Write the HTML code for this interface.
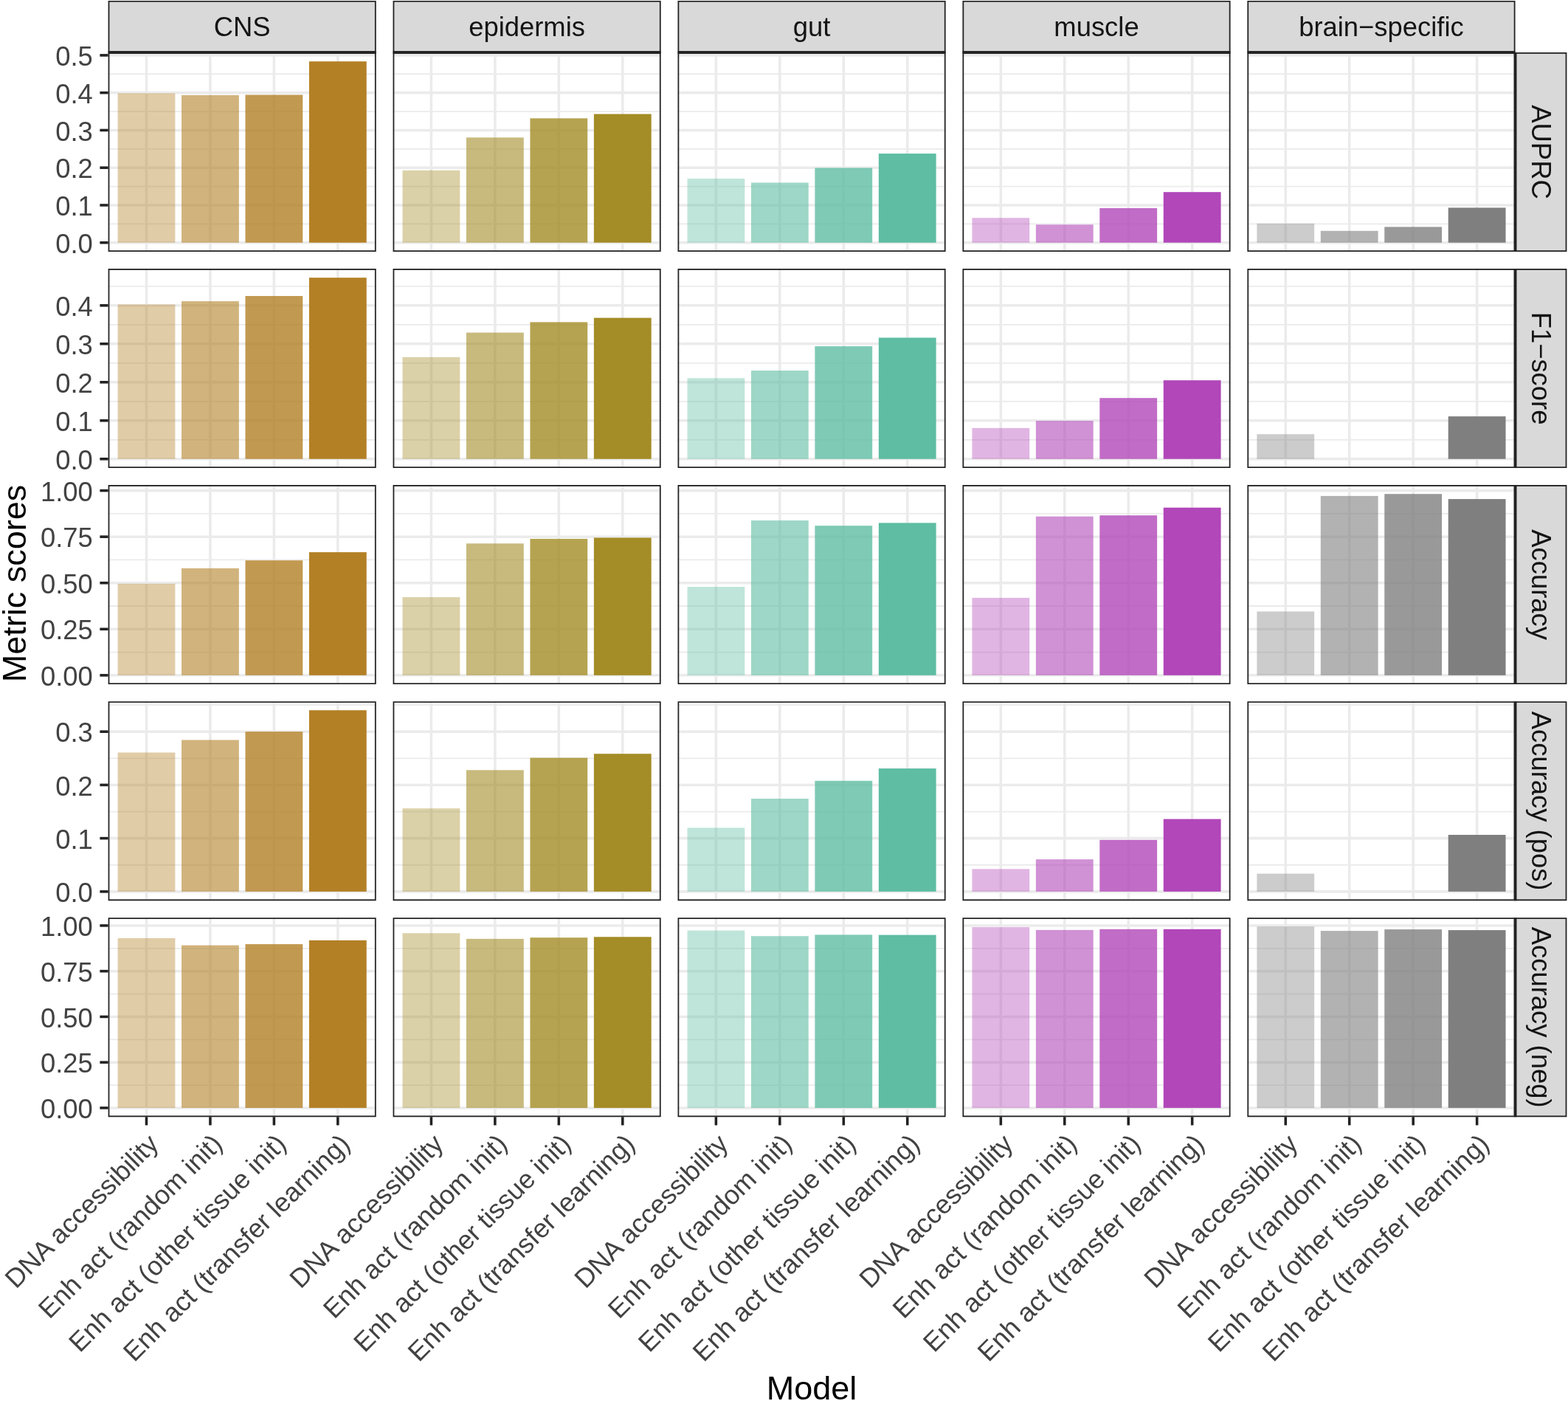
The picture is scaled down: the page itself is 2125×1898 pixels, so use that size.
<!DOCTYPE html>
<html><head><meta charset="utf-8"><title>Metric scores</title>
<style>
html,body{margin:0;padding:0;background:#fff;}
body{width:2125px;height:1898px;overflow:hidden;}
svg{display:block;font-family:"Liberation Sans", Arial, Helvetica, sans-serif;}
</style></head><body>
<svg width="2125" height="1898" viewBox="0 0 2125 1898">
<rect width="100%" height="100%" fill="#FFFFFF"/>
<defs>
<clipPath id="p00"><rect x="146.6" y="71" width="363.1" height="270"/></clipPath>
<clipPath id="p01"><rect x="532.55" y="71" width="363.1" height="270"/></clipPath>
<clipPath id="p02"><rect x="918.5" y="71" width="363.1" height="270"/></clipPath>
<clipPath id="p03"><rect x="1304.45" y="71" width="363.1" height="270"/></clipPath>
<clipPath id="p04"><rect x="1690.4" y="71" width="363.1" height="270"/></clipPath>
<clipPath id="p10"><rect x="146.6" y="364.05" width="363.1" height="270"/></clipPath>
<clipPath id="p11"><rect x="532.55" y="364.05" width="363.1" height="270"/></clipPath>
<clipPath id="p12"><rect x="918.5" y="364.05" width="363.1" height="270"/></clipPath>
<clipPath id="p13"><rect x="1304.45" y="364.05" width="363.1" height="270"/></clipPath>
<clipPath id="p14"><rect x="1690.4" y="364.05" width="363.1" height="270"/></clipPath>
<clipPath id="p20"><rect x="146.6" y="657.1" width="363.1" height="270"/></clipPath>
<clipPath id="p21"><rect x="532.55" y="657.1" width="363.1" height="270"/></clipPath>
<clipPath id="p22"><rect x="918.5" y="657.1" width="363.1" height="270"/></clipPath>
<clipPath id="p23"><rect x="1304.45" y="657.1" width="363.1" height="270"/></clipPath>
<clipPath id="p24"><rect x="1690.4" y="657.1" width="363.1" height="270"/></clipPath>
<clipPath id="p30"><rect x="146.6" y="950.15" width="363.1" height="270"/></clipPath>
<clipPath id="p31"><rect x="532.55" y="950.15" width="363.1" height="270"/></clipPath>
<clipPath id="p32"><rect x="918.5" y="950.15" width="363.1" height="270"/></clipPath>
<clipPath id="p33"><rect x="1304.45" y="950.15" width="363.1" height="270"/></clipPath>
<clipPath id="p34"><rect x="1690.4" y="950.15" width="363.1" height="270"/></clipPath>
<clipPath id="p40"><rect x="146.6" y="1243.2" width="363.1" height="270"/></clipPath>
<clipPath id="p41"><rect x="532.55" y="1243.2" width="363.1" height="270"/></clipPath>
<clipPath id="p42"><rect x="918.5" y="1243.2" width="363.1" height="270"/></clipPath>
<clipPath id="p43"><rect x="1304.45" y="1243.2" width="363.1" height="270"/></clipPath>
<clipPath id="p44"><rect x="1690.4" y="1243.2" width="363.1" height="270"/></clipPath>
</defs>
<g clip-path="url(#p00)"><line x1="146.6" x2="509.7" y1="303.34" y2="303.34" stroke="#EBEBEB" stroke-width="1.78"/><line x1="146.6" x2="509.7" y1="252.57" y2="252.57" stroke="#EBEBEB" stroke-width="1.78"/><line x1="146.6" x2="509.7" y1="201.8" y2="201.8" stroke="#EBEBEB" stroke-width="1.78"/><line x1="146.6" x2="509.7" y1="151.03" y2="151.03" stroke="#EBEBEB" stroke-width="1.78"/><line x1="146.6" x2="509.7" y1="100.26" y2="100.26" stroke="#EBEBEB" stroke-width="1.78"/><line x1="146.6" x2="509.7" y1="328.73" y2="328.73" stroke="#EBEBEB" stroke-width="3.56"/><line x1="146.6" x2="509.7" y1="277.96" y2="277.96" stroke="#EBEBEB" stroke-width="3.56"/><line x1="146.6" x2="509.7" y1="227.19" y2="227.19" stroke="#EBEBEB" stroke-width="3.56"/><line x1="146.6" x2="509.7" y1="176.42" y2="176.42" stroke="#EBEBEB" stroke-width="3.56"/><line x1="146.6" x2="509.7" y1="125.65" y2="125.65" stroke="#EBEBEB" stroke-width="3.56"/><line x1="146.6" x2="509.7" y1="74.88" y2="74.88" stroke="#EBEBEB" stroke-width="3.56"/><line x1="198.47" x2="198.47" y1="71" y2="341" stroke="#EBEBEB" stroke-width="3.56"/><line x1="284.92" x2="284.92" y1="71" y2="341" stroke="#EBEBEB" stroke-width="3.56"/><line x1="371.38" x2="371.38" y1="71" y2="341" stroke="#EBEBEB" stroke-width="3.56"/><line x1="457.83" x2="457.83" y1="71" y2="341" stroke="#EBEBEB" stroke-width="3.56"/><rect x="159.57" y="126.4" width="77.81" height="202.33" fill="#B38026" fill-opacity="0.4"/><rect x="246.02" y="128.9" width="77.81" height="199.83" fill="#B38026" fill-opacity="0.6"/><rect x="332.47" y="128.5" width="77.81" height="200.23" fill="#B38026" fill-opacity="0.8"/><rect x="418.93" y="83.2" width="77.81" height="245.53" fill="#B38026" fill-opacity="1.0"/><rect x="146.6" y="71" width="363.1" height="270" fill="none" stroke="#222222" stroke-width="3.56"/></g>
<g clip-path="url(#p01)"><line x1="532.55" x2="895.65" y1="303.34" y2="303.34" stroke="#EBEBEB" stroke-width="1.78"/><line x1="532.55" x2="895.65" y1="252.57" y2="252.57" stroke="#EBEBEB" stroke-width="1.78"/><line x1="532.55" x2="895.65" y1="201.8" y2="201.8" stroke="#EBEBEB" stroke-width="1.78"/><line x1="532.55" x2="895.65" y1="151.03" y2="151.03" stroke="#EBEBEB" stroke-width="1.78"/><line x1="532.55" x2="895.65" y1="100.26" y2="100.26" stroke="#EBEBEB" stroke-width="1.78"/><line x1="532.55" x2="895.65" y1="328.73" y2="328.73" stroke="#EBEBEB" stroke-width="3.56"/><line x1="532.55" x2="895.65" y1="277.96" y2="277.96" stroke="#EBEBEB" stroke-width="3.56"/><line x1="532.55" x2="895.65" y1="227.19" y2="227.19" stroke="#EBEBEB" stroke-width="3.56"/><line x1="532.55" x2="895.65" y1="176.42" y2="176.42" stroke="#EBEBEB" stroke-width="3.56"/><line x1="532.55" x2="895.65" y1="125.65" y2="125.65" stroke="#EBEBEB" stroke-width="3.56"/><line x1="532.55" x2="895.65" y1="74.88" y2="74.88" stroke="#EBEBEB" stroke-width="3.56"/><line x1="584.42" x2="584.42" y1="71" y2="341" stroke="#EBEBEB" stroke-width="3.56"/><line x1="670.87" x2="670.87" y1="71" y2="341" stroke="#EBEBEB" stroke-width="3.56"/><line x1="757.33" x2="757.33" y1="71" y2="341" stroke="#EBEBEB" stroke-width="3.56"/><line x1="843.78" x2="843.78" y1="71" y2="341" stroke="#EBEBEB" stroke-width="3.56"/><rect x="545.52" y="230.8" width="77.81" height="97.93" fill="#A48C26" fill-opacity="0.4"/><rect x="631.97" y="186.3" width="77.81" height="142.43" fill="#A48C26" fill-opacity="0.6"/><rect x="718.42" y="160.3" width="77.81" height="168.43" fill="#A48C26" fill-opacity="0.8"/><rect x="804.87" y="154.5" width="77.81" height="174.23" fill="#A48C26" fill-opacity="1.0"/><rect x="532.55" y="71" width="363.1" height="270" fill="none" stroke="#222222" stroke-width="3.56"/></g>
<g clip-path="url(#p02)"><line x1="918.5" x2="1281.6" y1="303.34" y2="303.34" stroke="#EBEBEB" stroke-width="1.78"/><line x1="918.5" x2="1281.6" y1="252.57" y2="252.57" stroke="#EBEBEB" stroke-width="1.78"/><line x1="918.5" x2="1281.6" y1="201.8" y2="201.8" stroke="#EBEBEB" stroke-width="1.78"/><line x1="918.5" x2="1281.6" y1="151.03" y2="151.03" stroke="#EBEBEB" stroke-width="1.78"/><line x1="918.5" x2="1281.6" y1="100.26" y2="100.26" stroke="#EBEBEB" stroke-width="1.78"/><line x1="918.5" x2="1281.6" y1="328.73" y2="328.73" stroke="#EBEBEB" stroke-width="3.56"/><line x1="918.5" x2="1281.6" y1="277.96" y2="277.96" stroke="#EBEBEB" stroke-width="3.56"/><line x1="918.5" x2="1281.6" y1="227.19" y2="227.19" stroke="#EBEBEB" stroke-width="3.56"/><line x1="918.5" x2="1281.6" y1="176.42" y2="176.42" stroke="#EBEBEB" stroke-width="3.56"/><line x1="918.5" x2="1281.6" y1="125.65" y2="125.65" stroke="#EBEBEB" stroke-width="3.56"/><line x1="918.5" x2="1281.6" y1="74.88" y2="74.88" stroke="#EBEBEB" stroke-width="3.56"/><line x1="970.37" x2="970.37" y1="71" y2="341" stroke="#EBEBEB" stroke-width="3.56"/><line x1="1056.82" x2="1056.82" y1="71" y2="341" stroke="#EBEBEB" stroke-width="3.56"/><line x1="1143.28" x2="1143.28" y1="71" y2="341" stroke="#EBEBEB" stroke-width="3.56"/><line x1="1229.73" x2="1229.73" y1="71" y2="341" stroke="#EBEBEB" stroke-width="3.56"/><rect x="931.47" y="242" width="77.81" height="86.73" fill="#5EBDA2" fill-opacity="0.4"/><rect x="1017.92" y="247.5" width="77.81" height="81.23" fill="#5EBDA2" fill-opacity="0.6"/><rect x="1104.37" y="227.5" width="77.81" height="101.23" fill="#5EBDA2" fill-opacity="0.8"/><rect x="1190.82" y="208.1" width="77.81" height="120.63" fill="#5EBDA2" fill-opacity="1.0"/><rect x="918.5" y="71" width="363.1" height="270" fill="none" stroke="#222222" stroke-width="3.56"/></g>
<g clip-path="url(#p03)"><line x1="1304.45" x2="1667.55" y1="303.34" y2="303.34" stroke="#EBEBEB" stroke-width="1.78"/><line x1="1304.45" x2="1667.55" y1="252.57" y2="252.57" stroke="#EBEBEB" stroke-width="1.78"/><line x1="1304.45" x2="1667.55" y1="201.8" y2="201.8" stroke="#EBEBEB" stroke-width="1.78"/><line x1="1304.45" x2="1667.55" y1="151.03" y2="151.03" stroke="#EBEBEB" stroke-width="1.78"/><line x1="1304.45" x2="1667.55" y1="100.26" y2="100.26" stroke="#EBEBEB" stroke-width="1.78"/><line x1="1304.45" x2="1667.55" y1="328.73" y2="328.73" stroke="#EBEBEB" stroke-width="3.56"/><line x1="1304.45" x2="1667.55" y1="277.96" y2="277.96" stroke="#EBEBEB" stroke-width="3.56"/><line x1="1304.45" x2="1667.55" y1="227.19" y2="227.19" stroke="#EBEBEB" stroke-width="3.56"/><line x1="1304.45" x2="1667.55" y1="176.42" y2="176.42" stroke="#EBEBEB" stroke-width="3.56"/><line x1="1304.45" x2="1667.55" y1="125.65" y2="125.65" stroke="#EBEBEB" stroke-width="3.56"/><line x1="1304.45" x2="1667.55" y1="74.88" y2="74.88" stroke="#EBEBEB" stroke-width="3.56"/><line x1="1356.32" x2="1356.32" y1="71" y2="341" stroke="#EBEBEB" stroke-width="3.56"/><line x1="1442.77" x2="1442.77" y1="71" y2="341" stroke="#EBEBEB" stroke-width="3.56"/><line x1="1529.23" x2="1529.23" y1="71" y2="341" stroke="#EBEBEB" stroke-width="3.56"/><line x1="1615.68" x2="1615.68" y1="71" y2="341" stroke="#EBEBEB" stroke-width="3.56"/><rect x="1317.42" y="295.2" width="77.81" height="33.53" fill="#B147B9" fill-opacity="0.4"/><rect x="1403.87" y="304.3" width="77.81" height="24.43" fill="#B147B9" fill-opacity="0.6"/><rect x="1490.32" y="282" width="77.81" height="46.73" fill="#B147B9" fill-opacity="0.8"/><rect x="1576.77" y="260.2" width="77.81" height="68.53" fill="#B147B9" fill-opacity="1.0"/><rect x="1304.45" y="71" width="363.1" height="270" fill="none" stroke="#222222" stroke-width="3.56"/></g>
<g clip-path="url(#p04)"><line x1="1690.4" x2="2053.5" y1="303.34" y2="303.34" stroke="#EBEBEB" stroke-width="1.78"/><line x1="1690.4" x2="2053.5" y1="252.57" y2="252.57" stroke="#EBEBEB" stroke-width="1.78"/><line x1="1690.4" x2="2053.5" y1="201.8" y2="201.8" stroke="#EBEBEB" stroke-width="1.78"/><line x1="1690.4" x2="2053.5" y1="151.03" y2="151.03" stroke="#EBEBEB" stroke-width="1.78"/><line x1="1690.4" x2="2053.5" y1="100.26" y2="100.26" stroke="#EBEBEB" stroke-width="1.78"/><line x1="1690.4" x2="2053.5" y1="328.73" y2="328.73" stroke="#EBEBEB" stroke-width="3.56"/><line x1="1690.4" x2="2053.5" y1="277.96" y2="277.96" stroke="#EBEBEB" stroke-width="3.56"/><line x1="1690.4" x2="2053.5" y1="227.19" y2="227.19" stroke="#EBEBEB" stroke-width="3.56"/><line x1="1690.4" x2="2053.5" y1="176.42" y2="176.42" stroke="#EBEBEB" stroke-width="3.56"/><line x1="1690.4" x2="2053.5" y1="125.65" y2="125.65" stroke="#EBEBEB" stroke-width="3.56"/><line x1="1690.4" x2="2053.5" y1="74.88" y2="74.88" stroke="#EBEBEB" stroke-width="3.56"/><line x1="1742.27" x2="1742.27" y1="71" y2="341" stroke="#EBEBEB" stroke-width="3.56"/><line x1="1828.72" x2="1828.72" y1="71" y2="341" stroke="#EBEBEB" stroke-width="3.56"/><line x1="1915.18" x2="1915.18" y1="71" y2="341" stroke="#EBEBEB" stroke-width="3.56"/><line x1="2001.63" x2="2001.63" y1="71" y2="341" stroke="#EBEBEB" stroke-width="3.56"/><rect x="1703.37" y="302.8" width="77.81" height="25.93" fill="#7F7F7F" fill-opacity="0.4"/><rect x="1789.82" y="312.8" width="77.81" height="15.93" fill="#7F7F7F" fill-opacity="0.6"/><rect x="1876.27" y="307.4" width="77.81" height="21.33" fill="#7F7F7F" fill-opacity="0.8"/><rect x="1962.72" y="281.4" width="77.81" height="47.33" fill="#7F7F7F" fill-opacity="1.0"/><rect x="1690.4" y="71" width="363.1" height="270" fill="none" stroke="#222222" stroke-width="3.56"/></g>
<g clip-path="url(#p10)"><line x1="146.6" x2="509.7" y1="595.78" y2="595.78" stroke="#EBEBEB" stroke-width="1.78"/><line x1="146.6" x2="509.7" y1="543.79" y2="543.79" stroke="#EBEBEB" stroke-width="1.78"/><line x1="146.6" x2="509.7" y1="491.8" y2="491.8" stroke="#EBEBEB" stroke-width="1.78"/><line x1="146.6" x2="509.7" y1="439.81" y2="439.81" stroke="#EBEBEB" stroke-width="1.78"/><line x1="146.6" x2="509.7" y1="387.82" y2="387.82" stroke="#EBEBEB" stroke-width="1.78"/><line x1="146.6" x2="509.7" y1="621.78" y2="621.78" stroke="#EBEBEB" stroke-width="3.56"/><line x1="146.6" x2="509.7" y1="569.79" y2="569.79" stroke="#EBEBEB" stroke-width="3.56"/><line x1="146.6" x2="509.7" y1="517.8" y2="517.8" stroke="#EBEBEB" stroke-width="3.56"/><line x1="146.6" x2="509.7" y1="465.81" y2="465.81" stroke="#EBEBEB" stroke-width="3.56"/><line x1="146.6" x2="509.7" y1="413.82" y2="413.82" stroke="#EBEBEB" stroke-width="3.56"/><line x1="198.47" x2="198.47" y1="364.05" y2="634.05" stroke="#EBEBEB" stroke-width="3.56"/><line x1="284.92" x2="284.92" y1="364.05" y2="634.05" stroke="#EBEBEB" stroke-width="3.56"/><line x1="371.38" x2="371.38" y1="364.05" y2="634.05" stroke="#EBEBEB" stroke-width="3.56"/><line x1="457.83" x2="457.83" y1="364.05" y2="634.05" stroke="#EBEBEB" stroke-width="3.56"/><rect x="159.57" y="412.5" width="77.81" height="209.28" fill="#B38026" fill-opacity="0.4"/><rect x="246.02" y="408.1" width="77.81" height="213.68" fill="#B38026" fill-opacity="0.6"/><rect x="332.47" y="401" width="77.81" height="220.78" fill="#B38026" fill-opacity="0.8"/><rect x="418.93" y="376.2" width="77.81" height="245.58" fill="#B38026" fill-opacity="1.0"/><rect x="146.6" y="364.05" width="363.1" height="270" fill="none" stroke="#222222" stroke-width="3.56"/></g>
<g clip-path="url(#p11)"><line x1="532.55" x2="895.65" y1="595.78" y2="595.78" stroke="#EBEBEB" stroke-width="1.78"/><line x1="532.55" x2="895.65" y1="543.79" y2="543.79" stroke="#EBEBEB" stroke-width="1.78"/><line x1="532.55" x2="895.65" y1="491.8" y2="491.8" stroke="#EBEBEB" stroke-width="1.78"/><line x1="532.55" x2="895.65" y1="439.81" y2="439.81" stroke="#EBEBEB" stroke-width="1.78"/><line x1="532.55" x2="895.65" y1="387.82" y2="387.82" stroke="#EBEBEB" stroke-width="1.78"/><line x1="532.55" x2="895.65" y1="621.78" y2="621.78" stroke="#EBEBEB" stroke-width="3.56"/><line x1="532.55" x2="895.65" y1="569.79" y2="569.79" stroke="#EBEBEB" stroke-width="3.56"/><line x1="532.55" x2="895.65" y1="517.8" y2="517.8" stroke="#EBEBEB" stroke-width="3.56"/><line x1="532.55" x2="895.65" y1="465.81" y2="465.81" stroke="#EBEBEB" stroke-width="3.56"/><line x1="532.55" x2="895.65" y1="413.82" y2="413.82" stroke="#EBEBEB" stroke-width="3.56"/><line x1="584.42" x2="584.42" y1="364.05" y2="634.05" stroke="#EBEBEB" stroke-width="3.56"/><line x1="670.87" x2="670.87" y1="364.05" y2="634.05" stroke="#EBEBEB" stroke-width="3.56"/><line x1="757.33" x2="757.33" y1="364.05" y2="634.05" stroke="#EBEBEB" stroke-width="3.56"/><line x1="843.78" x2="843.78" y1="364.05" y2="634.05" stroke="#EBEBEB" stroke-width="3.56"/><rect x="545.52" y="483.8" width="77.81" height="137.98" fill="#A48C26" fill-opacity="0.4"/><rect x="631.97" y="450.6" width="77.81" height="171.18" fill="#A48C26" fill-opacity="0.6"/><rect x="718.42" y="436.4" width="77.81" height="185.38" fill="#A48C26" fill-opacity="0.8"/><rect x="804.87" y="430.6" width="77.81" height="191.18" fill="#A48C26" fill-opacity="1.0"/><rect x="532.55" y="364.05" width="363.1" height="270" fill="none" stroke="#222222" stroke-width="3.56"/></g>
<g clip-path="url(#p12)"><line x1="918.5" x2="1281.6" y1="595.78" y2="595.78" stroke="#EBEBEB" stroke-width="1.78"/><line x1="918.5" x2="1281.6" y1="543.79" y2="543.79" stroke="#EBEBEB" stroke-width="1.78"/><line x1="918.5" x2="1281.6" y1="491.8" y2="491.8" stroke="#EBEBEB" stroke-width="1.78"/><line x1="918.5" x2="1281.6" y1="439.81" y2="439.81" stroke="#EBEBEB" stroke-width="1.78"/><line x1="918.5" x2="1281.6" y1="387.82" y2="387.82" stroke="#EBEBEB" stroke-width="1.78"/><line x1="918.5" x2="1281.6" y1="621.78" y2="621.78" stroke="#EBEBEB" stroke-width="3.56"/><line x1="918.5" x2="1281.6" y1="569.79" y2="569.79" stroke="#EBEBEB" stroke-width="3.56"/><line x1="918.5" x2="1281.6" y1="517.8" y2="517.8" stroke="#EBEBEB" stroke-width="3.56"/><line x1="918.5" x2="1281.6" y1="465.81" y2="465.81" stroke="#EBEBEB" stroke-width="3.56"/><line x1="918.5" x2="1281.6" y1="413.82" y2="413.82" stroke="#EBEBEB" stroke-width="3.56"/><line x1="970.37" x2="970.37" y1="364.05" y2="634.05" stroke="#EBEBEB" stroke-width="3.56"/><line x1="1056.82" x2="1056.82" y1="364.05" y2="634.05" stroke="#EBEBEB" stroke-width="3.56"/><line x1="1143.28" x2="1143.28" y1="364.05" y2="634.05" stroke="#EBEBEB" stroke-width="3.56"/><line x1="1229.73" x2="1229.73" y1="364.05" y2="634.05" stroke="#EBEBEB" stroke-width="3.56"/><rect x="931.47" y="512.3" width="77.81" height="109.48" fill="#5EBDA2" fill-opacity="0.4"/><rect x="1017.92" y="502" width="77.81" height="119.78" fill="#5EBDA2" fill-opacity="0.6"/><rect x="1104.37" y="469.1" width="77.81" height="152.68" fill="#5EBDA2" fill-opacity="0.8"/><rect x="1190.82" y="457.5" width="77.81" height="164.28" fill="#5EBDA2" fill-opacity="1.0"/><rect x="918.5" y="364.05" width="363.1" height="270" fill="none" stroke="#222222" stroke-width="3.56"/></g>
<g clip-path="url(#p13)"><line x1="1304.45" x2="1667.55" y1="595.78" y2="595.78" stroke="#EBEBEB" stroke-width="1.78"/><line x1="1304.45" x2="1667.55" y1="543.79" y2="543.79" stroke="#EBEBEB" stroke-width="1.78"/><line x1="1304.45" x2="1667.55" y1="491.8" y2="491.8" stroke="#EBEBEB" stroke-width="1.78"/><line x1="1304.45" x2="1667.55" y1="439.81" y2="439.81" stroke="#EBEBEB" stroke-width="1.78"/><line x1="1304.45" x2="1667.55" y1="387.82" y2="387.82" stroke="#EBEBEB" stroke-width="1.78"/><line x1="1304.45" x2="1667.55" y1="621.78" y2="621.78" stroke="#EBEBEB" stroke-width="3.56"/><line x1="1304.45" x2="1667.55" y1="569.79" y2="569.79" stroke="#EBEBEB" stroke-width="3.56"/><line x1="1304.45" x2="1667.55" y1="517.8" y2="517.8" stroke="#EBEBEB" stroke-width="3.56"/><line x1="1304.45" x2="1667.55" y1="465.81" y2="465.81" stroke="#EBEBEB" stroke-width="3.56"/><line x1="1304.45" x2="1667.55" y1="413.82" y2="413.82" stroke="#EBEBEB" stroke-width="3.56"/><line x1="1356.32" x2="1356.32" y1="364.05" y2="634.05" stroke="#EBEBEB" stroke-width="3.56"/><line x1="1442.77" x2="1442.77" y1="364.05" y2="634.05" stroke="#EBEBEB" stroke-width="3.56"/><line x1="1529.23" x2="1529.23" y1="364.05" y2="634.05" stroke="#EBEBEB" stroke-width="3.56"/><line x1="1615.68" x2="1615.68" y1="364.05" y2="634.05" stroke="#EBEBEB" stroke-width="3.56"/><rect x="1317.42" y="579.9" width="77.81" height="41.88" fill="#B147B9" fill-opacity="0.4"/><rect x="1403.87" y="570.1" width="77.81" height="51.68" fill="#B147B9" fill-opacity="0.6"/><rect x="1490.32" y="539.2" width="77.81" height="82.58" fill="#B147B9" fill-opacity="0.8"/><rect x="1576.77" y="515.2" width="77.81" height="106.58" fill="#B147B9" fill-opacity="1.0"/><rect x="1304.45" y="364.05" width="363.1" height="270" fill="none" stroke="#222222" stroke-width="3.56"/></g>
<g clip-path="url(#p14)"><line x1="1690.4" x2="2053.5" y1="595.78" y2="595.78" stroke="#EBEBEB" stroke-width="1.78"/><line x1="1690.4" x2="2053.5" y1="543.79" y2="543.79" stroke="#EBEBEB" stroke-width="1.78"/><line x1="1690.4" x2="2053.5" y1="491.8" y2="491.8" stroke="#EBEBEB" stroke-width="1.78"/><line x1="1690.4" x2="2053.5" y1="439.81" y2="439.81" stroke="#EBEBEB" stroke-width="1.78"/><line x1="1690.4" x2="2053.5" y1="387.82" y2="387.82" stroke="#EBEBEB" stroke-width="1.78"/><line x1="1690.4" x2="2053.5" y1="621.78" y2="621.78" stroke="#EBEBEB" stroke-width="3.56"/><line x1="1690.4" x2="2053.5" y1="569.79" y2="569.79" stroke="#EBEBEB" stroke-width="3.56"/><line x1="1690.4" x2="2053.5" y1="517.8" y2="517.8" stroke="#EBEBEB" stroke-width="3.56"/><line x1="1690.4" x2="2053.5" y1="465.81" y2="465.81" stroke="#EBEBEB" stroke-width="3.56"/><line x1="1690.4" x2="2053.5" y1="413.82" y2="413.82" stroke="#EBEBEB" stroke-width="3.56"/><line x1="1742.27" x2="1742.27" y1="364.05" y2="634.05" stroke="#EBEBEB" stroke-width="3.56"/><line x1="1828.72" x2="1828.72" y1="364.05" y2="634.05" stroke="#EBEBEB" stroke-width="3.56"/><line x1="1915.18" x2="1915.18" y1="364.05" y2="634.05" stroke="#EBEBEB" stroke-width="3.56"/><line x1="2001.63" x2="2001.63" y1="364.05" y2="634.05" stroke="#EBEBEB" stroke-width="3.56"/><rect x="1703.37" y="588.2" width="77.81" height="33.58" fill="#7F7F7F" fill-opacity="0.4"/><rect x="1962.72" y="564.1" width="77.81" height="57.68" fill="#7F7F7F" fill-opacity="1.0"/><rect x="1690.4" y="364.05" width="363.1" height="270" fill="none" stroke="#222222" stroke-width="3.56"/></g>
<g clip-path="url(#p20)"><line x1="146.6" x2="509.7" y1="883.55" y2="883.55" stroke="#EBEBEB" stroke-width="1.78"/><line x1="146.6" x2="509.7" y1="821" y2="821" stroke="#EBEBEB" stroke-width="1.78"/><line x1="146.6" x2="509.7" y1="758.45" y2="758.45" stroke="#EBEBEB" stroke-width="1.78"/><line x1="146.6" x2="509.7" y1="695.9" y2="695.9" stroke="#EBEBEB" stroke-width="1.78"/><line x1="146.6" x2="509.7" y1="914.83" y2="914.83" stroke="#EBEBEB" stroke-width="3.56"/><line x1="146.6" x2="509.7" y1="852.28" y2="852.28" stroke="#EBEBEB" stroke-width="3.56"/><line x1="146.6" x2="509.7" y1="789.73" y2="789.73" stroke="#EBEBEB" stroke-width="3.56"/><line x1="146.6" x2="509.7" y1="727.18" y2="727.18" stroke="#EBEBEB" stroke-width="3.56"/><line x1="146.6" x2="509.7" y1="664.63" y2="664.63" stroke="#EBEBEB" stroke-width="3.56"/><line x1="198.47" x2="198.47" y1="657.1" y2="927.1" stroke="#EBEBEB" stroke-width="3.56"/><line x1="284.92" x2="284.92" y1="657.1" y2="927.1" stroke="#EBEBEB" stroke-width="3.56"/><line x1="371.38" x2="371.38" y1="657.1" y2="927.1" stroke="#EBEBEB" stroke-width="3.56"/><line x1="457.83" x2="457.83" y1="657.1" y2="927.1" stroke="#EBEBEB" stroke-width="3.56"/><rect x="159.57" y="790.8" width="77.81" height="124.03" fill="#B38026" fill-opacity="0.4"/><rect x="246.02" y="769.9" width="77.81" height="144.93" fill="#B38026" fill-opacity="0.6"/><rect x="332.47" y="759.2" width="77.81" height="155.63" fill="#B38026" fill-opacity="0.8"/><rect x="418.93" y="748.1" width="77.81" height="166.73" fill="#B38026" fill-opacity="1.0"/><rect x="146.6" y="657.1" width="363.1" height="270" fill="none" stroke="#222222" stroke-width="3.56"/></g>
<g clip-path="url(#p21)"><line x1="532.55" x2="895.65" y1="883.55" y2="883.55" stroke="#EBEBEB" stroke-width="1.78"/><line x1="532.55" x2="895.65" y1="821" y2="821" stroke="#EBEBEB" stroke-width="1.78"/><line x1="532.55" x2="895.65" y1="758.45" y2="758.45" stroke="#EBEBEB" stroke-width="1.78"/><line x1="532.55" x2="895.65" y1="695.9" y2="695.9" stroke="#EBEBEB" stroke-width="1.78"/><line x1="532.55" x2="895.65" y1="914.83" y2="914.83" stroke="#EBEBEB" stroke-width="3.56"/><line x1="532.55" x2="895.65" y1="852.28" y2="852.28" stroke="#EBEBEB" stroke-width="3.56"/><line x1="532.55" x2="895.65" y1="789.73" y2="789.73" stroke="#EBEBEB" stroke-width="3.56"/><line x1="532.55" x2="895.65" y1="727.18" y2="727.18" stroke="#EBEBEB" stroke-width="3.56"/><line x1="532.55" x2="895.65" y1="664.63" y2="664.63" stroke="#EBEBEB" stroke-width="3.56"/><line x1="584.42" x2="584.42" y1="657.1" y2="927.1" stroke="#EBEBEB" stroke-width="3.56"/><line x1="670.87" x2="670.87" y1="657.1" y2="927.1" stroke="#EBEBEB" stroke-width="3.56"/><line x1="757.33" x2="757.33" y1="657.1" y2="927.1" stroke="#EBEBEB" stroke-width="3.56"/><line x1="843.78" x2="843.78" y1="657.1" y2="927.1" stroke="#EBEBEB" stroke-width="3.56"/><rect x="545.52" y="809" width="77.81" height="105.83" fill="#A48C26" fill-opacity="0.4"/><rect x="631.97" y="736.3" width="77.81" height="178.53" fill="#A48C26" fill-opacity="0.6"/><rect x="718.42" y="730" width="77.81" height="184.83" fill="#A48C26" fill-opacity="0.8"/><rect x="804.87" y="728.5" width="77.81" height="186.33" fill="#A48C26" fill-opacity="1.0"/><rect x="532.55" y="657.1" width="363.1" height="270" fill="none" stroke="#222222" stroke-width="3.56"/></g>
<g clip-path="url(#p22)"><line x1="918.5" x2="1281.6" y1="883.55" y2="883.55" stroke="#EBEBEB" stroke-width="1.78"/><line x1="918.5" x2="1281.6" y1="821" y2="821" stroke="#EBEBEB" stroke-width="1.78"/><line x1="918.5" x2="1281.6" y1="758.45" y2="758.45" stroke="#EBEBEB" stroke-width="1.78"/><line x1="918.5" x2="1281.6" y1="695.9" y2="695.9" stroke="#EBEBEB" stroke-width="1.78"/><line x1="918.5" x2="1281.6" y1="914.83" y2="914.83" stroke="#EBEBEB" stroke-width="3.56"/><line x1="918.5" x2="1281.6" y1="852.28" y2="852.28" stroke="#EBEBEB" stroke-width="3.56"/><line x1="918.5" x2="1281.6" y1="789.73" y2="789.73" stroke="#EBEBEB" stroke-width="3.56"/><line x1="918.5" x2="1281.6" y1="727.18" y2="727.18" stroke="#EBEBEB" stroke-width="3.56"/><line x1="918.5" x2="1281.6" y1="664.63" y2="664.63" stroke="#EBEBEB" stroke-width="3.56"/><line x1="970.37" x2="970.37" y1="657.1" y2="927.1" stroke="#EBEBEB" stroke-width="3.56"/><line x1="1056.82" x2="1056.82" y1="657.1" y2="927.1" stroke="#EBEBEB" stroke-width="3.56"/><line x1="1143.28" x2="1143.28" y1="657.1" y2="927.1" stroke="#EBEBEB" stroke-width="3.56"/><line x1="1229.73" x2="1229.73" y1="657.1" y2="927.1" stroke="#EBEBEB" stroke-width="3.56"/><rect x="931.47" y="795" width="77.81" height="119.83" fill="#5EBDA2" fill-opacity="0.4"/><rect x="1017.92" y="705.1" width="77.81" height="209.73" fill="#5EBDA2" fill-opacity="0.6"/><rect x="1104.37" y="712.2" width="77.81" height="202.63" fill="#5EBDA2" fill-opacity="0.8"/><rect x="1190.82" y="708.4" width="77.81" height="206.43" fill="#5EBDA2" fill-opacity="1.0"/><rect x="918.5" y="657.1" width="363.1" height="270" fill="none" stroke="#222222" stroke-width="3.56"/></g>
<g clip-path="url(#p23)"><line x1="1304.45" x2="1667.55" y1="883.55" y2="883.55" stroke="#EBEBEB" stroke-width="1.78"/><line x1="1304.45" x2="1667.55" y1="821" y2="821" stroke="#EBEBEB" stroke-width="1.78"/><line x1="1304.45" x2="1667.55" y1="758.45" y2="758.45" stroke="#EBEBEB" stroke-width="1.78"/><line x1="1304.45" x2="1667.55" y1="695.9" y2="695.9" stroke="#EBEBEB" stroke-width="1.78"/><line x1="1304.45" x2="1667.55" y1="914.83" y2="914.83" stroke="#EBEBEB" stroke-width="3.56"/><line x1="1304.45" x2="1667.55" y1="852.28" y2="852.28" stroke="#EBEBEB" stroke-width="3.56"/><line x1="1304.45" x2="1667.55" y1="789.73" y2="789.73" stroke="#EBEBEB" stroke-width="3.56"/><line x1="1304.45" x2="1667.55" y1="727.18" y2="727.18" stroke="#EBEBEB" stroke-width="3.56"/><line x1="1304.45" x2="1667.55" y1="664.63" y2="664.63" stroke="#EBEBEB" stroke-width="3.56"/><line x1="1356.32" x2="1356.32" y1="657.1" y2="927.1" stroke="#EBEBEB" stroke-width="3.56"/><line x1="1442.77" x2="1442.77" y1="657.1" y2="927.1" stroke="#EBEBEB" stroke-width="3.56"/><line x1="1529.23" x2="1529.23" y1="657.1" y2="927.1" stroke="#EBEBEB" stroke-width="3.56"/><line x1="1615.68" x2="1615.68" y1="657.1" y2="927.1" stroke="#EBEBEB" stroke-width="3.56"/><rect x="1317.42" y="809.9" width="77.81" height="104.93" fill="#B147B9" fill-opacity="0.4"/><rect x="1403.87" y="699.7" width="77.81" height="215.13" fill="#B147B9" fill-opacity="0.6"/><rect x="1490.32" y="698.2" width="77.81" height="216.63" fill="#B147B9" fill-opacity="0.8"/><rect x="1576.77" y="687.7" width="77.81" height="227.13" fill="#B147B9" fill-opacity="1.0"/><rect x="1304.45" y="657.1" width="363.1" height="270" fill="none" stroke="#222222" stroke-width="3.56"/></g>
<g clip-path="url(#p24)"><line x1="1690.4" x2="2053.5" y1="883.55" y2="883.55" stroke="#EBEBEB" stroke-width="1.78"/><line x1="1690.4" x2="2053.5" y1="821" y2="821" stroke="#EBEBEB" stroke-width="1.78"/><line x1="1690.4" x2="2053.5" y1="758.45" y2="758.45" stroke="#EBEBEB" stroke-width="1.78"/><line x1="1690.4" x2="2053.5" y1="695.9" y2="695.9" stroke="#EBEBEB" stroke-width="1.78"/><line x1="1690.4" x2="2053.5" y1="914.83" y2="914.83" stroke="#EBEBEB" stroke-width="3.56"/><line x1="1690.4" x2="2053.5" y1="852.28" y2="852.28" stroke="#EBEBEB" stroke-width="3.56"/><line x1="1690.4" x2="2053.5" y1="789.73" y2="789.73" stroke="#EBEBEB" stroke-width="3.56"/><line x1="1690.4" x2="2053.5" y1="727.18" y2="727.18" stroke="#EBEBEB" stroke-width="3.56"/><line x1="1690.4" x2="2053.5" y1="664.63" y2="664.63" stroke="#EBEBEB" stroke-width="3.56"/><line x1="1742.27" x2="1742.27" y1="657.1" y2="927.1" stroke="#EBEBEB" stroke-width="3.56"/><line x1="1828.72" x2="1828.72" y1="657.1" y2="927.1" stroke="#EBEBEB" stroke-width="3.56"/><line x1="1915.18" x2="1915.18" y1="657.1" y2="927.1" stroke="#EBEBEB" stroke-width="3.56"/><line x1="2001.63" x2="2001.63" y1="657.1" y2="927.1" stroke="#EBEBEB" stroke-width="3.56"/><rect x="1703.37" y="828.4" width="77.81" height="86.43" fill="#7F7F7F" fill-opacity="0.4"/><rect x="1789.82" y="671.9" width="77.81" height="242.93" fill="#7F7F7F" fill-opacity="0.6"/><rect x="1876.27" y="669.2" width="77.81" height="245.63" fill="#7F7F7F" fill-opacity="0.8"/><rect x="1962.72" y="676.1" width="77.81" height="238.73" fill="#7F7F7F" fill-opacity="1.0"/><rect x="1690.4" y="657.1" width="363.1" height="270" fill="none" stroke="#222222" stroke-width="3.56"/></g>
<g clip-path="url(#p30)"><line x1="146.6" x2="509.7" y1="1171.76" y2="1171.76" stroke="#EBEBEB" stroke-width="1.78"/><line x1="146.6" x2="509.7" y1="1099.53" y2="1099.53" stroke="#EBEBEB" stroke-width="1.78"/><line x1="146.6" x2="509.7" y1="1027.3" y2="1027.3" stroke="#EBEBEB" stroke-width="1.78"/><line x1="146.6" x2="509.7" y1="955.07" y2="955.07" stroke="#EBEBEB" stroke-width="1.78"/><line x1="146.6" x2="509.7" y1="1207.88" y2="1207.88" stroke="#EBEBEB" stroke-width="3.56"/><line x1="146.6" x2="509.7" y1="1135.65" y2="1135.65" stroke="#EBEBEB" stroke-width="3.56"/><line x1="146.6" x2="509.7" y1="1063.42" y2="1063.42" stroke="#EBEBEB" stroke-width="3.56"/><line x1="146.6" x2="509.7" y1="991.19" y2="991.19" stroke="#EBEBEB" stroke-width="3.56"/><line x1="198.47" x2="198.47" y1="950.15" y2="1220.15" stroke="#EBEBEB" stroke-width="3.56"/><line x1="284.92" x2="284.92" y1="950.15" y2="1220.15" stroke="#EBEBEB" stroke-width="3.56"/><line x1="371.38" x2="371.38" y1="950.15" y2="1220.15" stroke="#EBEBEB" stroke-width="3.56"/><line x1="457.83" x2="457.83" y1="950.15" y2="1220.15" stroke="#EBEBEB" stroke-width="3.56"/><rect x="159.57" y="1019.5" width="77.81" height="188.38" fill="#B38026" fill-opacity="0.4"/><rect x="246.02" y="1002.5" width="77.81" height="205.38" fill="#B38026" fill-opacity="0.6"/><rect x="332.47" y="991.2" width="77.81" height="216.68" fill="#B38026" fill-opacity="0.8"/><rect x="418.93" y="962.2" width="77.81" height="245.68" fill="#B38026" fill-opacity="1.0"/><rect x="146.6" y="950.15" width="363.1" height="270" fill="none" stroke="#222222" stroke-width="3.56"/></g>
<g clip-path="url(#p31)"><line x1="532.55" x2="895.65" y1="1171.76" y2="1171.76" stroke="#EBEBEB" stroke-width="1.78"/><line x1="532.55" x2="895.65" y1="1099.53" y2="1099.53" stroke="#EBEBEB" stroke-width="1.78"/><line x1="532.55" x2="895.65" y1="1027.3" y2="1027.3" stroke="#EBEBEB" stroke-width="1.78"/><line x1="532.55" x2="895.65" y1="955.07" y2="955.07" stroke="#EBEBEB" stroke-width="1.78"/><line x1="532.55" x2="895.65" y1="1207.88" y2="1207.88" stroke="#EBEBEB" stroke-width="3.56"/><line x1="532.55" x2="895.65" y1="1135.65" y2="1135.65" stroke="#EBEBEB" stroke-width="3.56"/><line x1="532.55" x2="895.65" y1="1063.42" y2="1063.42" stroke="#EBEBEB" stroke-width="3.56"/><line x1="532.55" x2="895.65" y1="991.19" y2="991.19" stroke="#EBEBEB" stroke-width="3.56"/><line x1="584.42" x2="584.42" y1="950.15" y2="1220.15" stroke="#EBEBEB" stroke-width="3.56"/><line x1="670.87" x2="670.87" y1="950.15" y2="1220.15" stroke="#EBEBEB" stroke-width="3.56"/><line x1="757.33" x2="757.33" y1="950.15" y2="1220.15" stroke="#EBEBEB" stroke-width="3.56"/><line x1="843.78" x2="843.78" y1="950.15" y2="1220.15" stroke="#EBEBEB" stroke-width="3.56"/><rect x="545.52" y="1095.2" width="77.81" height="112.68" fill="#A48C26" fill-opacity="0.4"/><rect x="631.97" y="1043.3" width="77.81" height="164.58" fill="#A48C26" fill-opacity="0.6"/><rect x="718.42" y="1026.6" width="77.81" height="181.28" fill="#A48C26" fill-opacity="0.8"/><rect x="804.87" y="1021.2" width="77.81" height="186.68" fill="#A48C26" fill-opacity="1.0"/><rect x="532.55" y="950.15" width="363.1" height="270" fill="none" stroke="#222222" stroke-width="3.56"/></g>
<g clip-path="url(#p32)"><line x1="918.5" x2="1281.6" y1="1171.76" y2="1171.76" stroke="#EBEBEB" stroke-width="1.78"/><line x1="918.5" x2="1281.6" y1="1099.53" y2="1099.53" stroke="#EBEBEB" stroke-width="1.78"/><line x1="918.5" x2="1281.6" y1="1027.3" y2="1027.3" stroke="#EBEBEB" stroke-width="1.78"/><line x1="918.5" x2="1281.6" y1="955.07" y2="955.07" stroke="#EBEBEB" stroke-width="1.78"/><line x1="918.5" x2="1281.6" y1="1207.88" y2="1207.88" stroke="#EBEBEB" stroke-width="3.56"/><line x1="918.5" x2="1281.6" y1="1135.65" y2="1135.65" stroke="#EBEBEB" stroke-width="3.56"/><line x1="918.5" x2="1281.6" y1="1063.42" y2="1063.42" stroke="#EBEBEB" stroke-width="3.56"/><line x1="918.5" x2="1281.6" y1="991.19" y2="991.19" stroke="#EBEBEB" stroke-width="3.56"/><line x1="970.37" x2="970.37" y1="950.15" y2="1220.15" stroke="#EBEBEB" stroke-width="3.56"/><line x1="1056.82" x2="1056.82" y1="950.15" y2="1220.15" stroke="#EBEBEB" stroke-width="3.56"/><line x1="1143.28" x2="1143.28" y1="950.15" y2="1220.15" stroke="#EBEBEB" stroke-width="3.56"/><line x1="1229.73" x2="1229.73" y1="950.15" y2="1220.15" stroke="#EBEBEB" stroke-width="3.56"/><rect x="931.47" y="1121.4" width="77.81" height="86.48" fill="#5EBDA2" fill-opacity="0.4"/><rect x="1017.92" y="1082" width="77.81" height="125.88" fill="#5EBDA2" fill-opacity="0.6"/><rect x="1104.37" y="1057.8" width="77.81" height="150.08" fill="#5EBDA2" fill-opacity="0.8"/><rect x="1190.82" y="1041.1" width="77.81" height="166.78" fill="#5EBDA2" fill-opacity="1.0"/><rect x="918.5" y="950.15" width="363.1" height="270" fill="none" stroke="#222222" stroke-width="3.56"/></g>
<g clip-path="url(#p33)"><line x1="1304.45" x2="1667.55" y1="1171.76" y2="1171.76" stroke="#EBEBEB" stroke-width="1.78"/><line x1="1304.45" x2="1667.55" y1="1099.53" y2="1099.53" stroke="#EBEBEB" stroke-width="1.78"/><line x1="1304.45" x2="1667.55" y1="1027.3" y2="1027.3" stroke="#EBEBEB" stroke-width="1.78"/><line x1="1304.45" x2="1667.55" y1="955.07" y2="955.07" stroke="#EBEBEB" stroke-width="1.78"/><line x1="1304.45" x2="1667.55" y1="1207.88" y2="1207.88" stroke="#EBEBEB" stroke-width="3.56"/><line x1="1304.45" x2="1667.55" y1="1135.65" y2="1135.65" stroke="#EBEBEB" stroke-width="3.56"/><line x1="1304.45" x2="1667.55" y1="1063.42" y2="1063.42" stroke="#EBEBEB" stroke-width="3.56"/><line x1="1304.45" x2="1667.55" y1="991.19" y2="991.19" stroke="#EBEBEB" stroke-width="3.56"/><line x1="1356.32" x2="1356.32" y1="950.15" y2="1220.15" stroke="#EBEBEB" stroke-width="3.56"/><line x1="1442.77" x2="1442.77" y1="950.15" y2="1220.15" stroke="#EBEBEB" stroke-width="3.56"/><line x1="1529.23" x2="1529.23" y1="950.15" y2="1220.15" stroke="#EBEBEB" stroke-width="3.56"/><line x1="1615.68" x2="1615.68" y1="950.15" y2="1220.15" stroke="#EBEBEB" stroke-width="3.56"/><rect x="1317.42" y="1177.3" width="77.81" height="30.58" fill="#B147B9" fill-opacity="0.4"/><rect x="1403.87" y="1164.2" width="77.81" height="43.68" fill="#B147B9" fill-opacity="0.6"/><rect x="1490.32" y="1137.9" width="77.81" height="69.98" fill="#B147B9" fill-opacity="0.8"/><rect x="1576.77" y="1109.6" width="77.81" height="98.28" fill="#B147B9" fill-opacity="1.0"/><rect x="1304.45" y="950.15" width="363.1" height="270" fill="none" stroke="#222222" stroke-width="3.56"/></g>
<g clip-path="url(#p34)"><line x1="1690.4" x2="2053.5" y1="1171.76" y2="1171.76" stroke="#EBEBEB" stroke-width="1.78"/><line x1="1690.4" x2="2053.5" y1="1099.53" y2="1099.53" stroke="#EBEBEB" stroke-width="1.78"/><line x1="1690.4" x2="2053.5" y1="1027.3" y2="1027.3" stroke="#EBEBEB" stroke-width="1.78"/><line x1="1690.4" x2="2053.5" y1="955.07" y2="955.07" stroke="#EBEBEB" stroke-width="1.78"/><line x1="1690.4" x2="2053.5" y1="1207.88" y2="1207.88" stroke="#EBEBEB" stroke-width="3.56"/><line x1="1690.4" x2="2053.5" y1="1135.65" y2="1135.65" stroke="#EBEBEB" stroke-width="3.56"/><line x1="1690.4" x2="2053.5" y1="1063.42" y2="1063.42" stroke="#EBEBEB" stroke-width="3.56"/><line x1="1690.4" x2="2053.5" y1="991.19" y2="991.19" stroke="#EBEBEB" stroke-width="3.56"/><line x1="1742.27" x2="1742.27" y1="950.15" y2="1220.15" stroke="#EBEBEB" stroke-width="3.56"/><line x1="1828.72" x2="1828.72" y1="950.15" y2="1220.15" stroke="#EBEBEB" stroke-width="3.56"/><line x1="1915.18" x2="1915.18" y1="950.15" y2="1220.15" stroke="#EBEBEB" stroke-width="3.56"/><line x1="2001.63" x2="2001.63" y1="950.15" y2="1220.15" stroke="#EBEBEB" stroke-width="3.56"/><rect x="1703.37" y="1183.6" width="77.81" height="24.28" fill="#7F7F7F" fill-opacity="0.4"/><rect x="1962.72" y="1131" width="77.81" height="76.88" fill="#7F7F7F" fill-opacity="1.0"/><rect x="1690.4" y="950.15" width="363.1" height="270" fill="none" stroke="#222222" stroke-width="3.56"/></g>
<g clip-path="url(#p40)"><line x1="146.6" x2="509.7" y1="1470.05" y2="1470.05" stroke="#EBEBEB" stroke-width="1.78"/><line x1="146.6" x2="509.7" y1="1408.3" y2="1408.3" stroke="#EBEBEB" stroke-width="1.78"/><line x1="146.6" x2="509.7" y1="1346.55" y2="1346.55" stroke="#EBEBEB" stroke-width="1.78"/><line x1="146.6" x2="509.7" y1="1284.8" y2="1284.8" stroke="#EBEBEB" stroke-width="1.78"/><line x1="146.6" x2="509.7" y1="1500.93" y2="1500.93" stroke="#EBEBEB" stroke-width="3.56"/><line x1="146.6" x2="509.7" y1="1439.18" y2="1439.18" stroke="#EBEBEB" stroke-width="3.56"/><line x1="146.6" x2="509.7" y1="1377.43" y2="1377.43" stroke="#EBEBEB" stroke-width="3.56"/><line x1="146.6" x2="509.7" y1="1315.68" y2="1315.68" stroke="#EBEBEB" stroke-width="3.56"/><line x1="146.6" x2="509.7" y1="1253.93" y2="1253.93" stroke="#EBEBEB" stroke-width="3.56"/><line x1="198.47" x2="198.47" y1="1243.2" y2="1513.2" stroke="#EBEBEB" stroke-width="3.56"/><line x1="284.92" x2="284.92" y1="1243.2" y2="1513.2" stroke="#EBEBEB" stroke-width="3.56"/><line x1="371.38" x2="371.38" y1="1243.2" y2="1513.2" stroke="#EBEBEB" stroke-width="3.56"/><line x1="457.83" x2="457.83" y1="1243.2" y2="1513.2" stroke="#EBEBEB" stroke-width="3.56"/><rect x="159.57" y="1271" width="77.81" height="229.93" fill="#B38026" fill-opacity="0.4"/><rect x="246.02" y="1280.6" width="77.81" height="220.33" fill="#B38026" fill-opacity="0.6"/><rect x="332.47" y="1279.1" width="77.81" height="221.83" fill="#B38026" fill-opacity="0.8"/><rect x="418.93" y="1273.9" width="77.81" height="227.03" fill="#B38026" fill-opacity="1.0"/><rect x="146.6" y="1243.2" width="363.1" height="270" fill="none" stroke="#222222" stroke-width="3.56"/></g>
<g clip-path="url(#p41)"><line x1="532.55" x2="895.65" y1="1470.05" y2="1470.05" stroke="#EBEBEB" stroke-width="1.78"/><line x1="532.55" x2="895.65" y1="1408.3" y2="1408.3" stroke="#EBEBEB" stroke-width="1.78"/><line x1="532.55" x2="895.65" y1="1346.55" y2="1346.55" stroke="#EBEBEB" stroke-width="1.78"/><line x1="532.55" x2="895.65" y1="1284.8" y2="1284.8" stroke="#EBEBEB" stroke-width="1.78"/><line x1="532.55" x2="895.65" y1="1500.93" y2="1500.93" stroke="#EBEBEB" stroke-width="3.56"/><line x1="532.55" x2="895.65" y1="1439.18" y2="1439.18" stroke="#EBEBEB" stroke-width="3.56"/><line x1="532.55" x2="895.65" y1="1377.43" y2="1377.43" stroke="#EBEBEB" stroke-width="3.56"/><line x1="532.55" x2="895.65" y1="1315.68" y2="1315.68" stroke="#EBEBEB" stroke-width="3.56"/><line x1="532.55" x2="895.65" y1="1253.93" y2="1253.93" stroke="#EBEBEB" stroke-width="3.56"/><line x1="584.42" x2="584.42" y1="1243.2" y2="1513.2" stroke="#EBEBEB" stroke-width="3.56"/><line x1="670.87" x2="670.87" y1="1243.2" y2="1513.2" stroke="#EBEBEB" stroke-width="3.56"/><line x1="757.33" x2="757.33" y1="1243.2" y2="1513.2" stroke="#EBEBEB" stroke-width="3.56"/><line x1="843.78" x2="843.78" y1="1243.2" y2="1513.2" stroke="#EBEBEB" stroke-width="3.56"/><rect x="545.52" y="1264.2" width="77.81" height="236.73" fill="#A48C26" fill-opacity="0.4"/><rect x="631.97" y="1271.9" width="77.81" height="229.03" fill="#A48C26" fill-opacity="0.6"/><rect x="718.42" y="1270.2" width="77.81" height="230.73" fill="#A48C26" fill-opacity="0.8"/><rect x="804.87" y="1269.3" width="77.81" height="231.63" fill="#A48C26" fill-opacity="1.0"/><rect x="532.55" y="1243.2" width="363.1" height="270" fill="none" stroke="#222222" stroke-width="3.56"/></g>
<g clip-path="url(#p42)"><line x1="918.5" x2="1281.6" y1="1470.05" y2="1470.05" stroke="#EBEBEB" stroke-width="1.78"/><line x1="918.5" x2="1281.6" y1="1408.3" y2="1408.3" stroke="#EBEBEB" stroke-width="1.78"/><line x1="918.5" x2="1281.6" y1="1346.55" y2="1346.55" stroke="#EBEBEB" stroke-width="1.78"/><line x1="918.5" x2="1281.6" y1="1284.8" y2="1284.8" stroke="#EBEBEB" stroke-width="1.78"/><line x1="918.5" x2="1281.6" y1="1500.93" y2="1500.93" stroke="#EBEBEB" stroke-width="3.56"/><line x1="918.5" x2="1281.6" y1="1439.18" y2="1439.18" stroke="#EBEBEB" stroke-width="3.56"/><line x1="918.5" x2="1281.6" y1="1377.43" y2="1377.43" stroke="#EBEBEB" stroke-width="3.56"/><line x1="918.5" x2="1281.6" y1="1315.68" y2="1315.68" stroke="#EBEBEB" stroke-width="3.56"/><line x1="918.5" x2="1281.6" y1="1253.93" y2="1253.93" stroke="#EBEBEB" stroke-width="3.56"/><line x1="970.37" x2="970.37" y1="1243.2" y2="1513.2" stroke="#EBEBEB" stroke-width="3.56"/><line x1="1056.82" x2="1056.82" y1="1243.2" y2="1513.2" stroke="#EBEBEB" stroke-width="3.56"/><line x1="1143.28" x2="1143.28" y1="1243.2" y2="1513.2" stroke="#EBEBEB" stroke-width="3.56"/><line x1="1229.73" x2="1229.73" y1="1243.2" y2="1513.2" stroke="#EBEBEB" stroke-width="3.56"/><rect x="931.47" y="1260.6" width="77.81" height="240.33" fill="#5EBDA2" fill-opacity="0.4"/><rect x="1017.92" y="1268.2" width="77.81" height="232.73" fill="#5EBDA2" fill-opacity="0.6"/><rect x="1104.37" y="1266.4" width="77.81" height="234.53" fill="#5EBDA2" fill-opacity="0.8"/><rect x="1190.82" y="1266.6" width="77.81" height="234.33" fill="#5EBDA2" fill-opacity="1.0"/><rect x="918.5" y="1243.2" width="363.1" height="270" fill="none" stroke="#222222" stroke-width="3.56"/></g>
<g clip-path="url(#p43)"><line x1="1304.45" x2="1667.55" y1="1470.05" y2="1470.05" stroke="#EBEBEB" stroke-width="1.78"/><line x1="1304.45" x2="1667.55" y1="1408.3" y2="1408.3" stroke="#EBEBEB" stroke-width="1.78"/><line x1="1304.45" x2="1667.55" y1="1346.55" y2="1346.55" stroke="#EBEBEB" stroke-width="1.78"/><line x1="1304.45" x2="1667.55" y1="1284.8" y2="1284.8" stroke="#EBEBEB" stroke-width="1.78"/><line x1="1304.45" x2="1667.55" y1="1500.93" y2="1500.93" stroke="#EBEBEB" stroke-width="3.56"/><line x1="1304.45" x2="1667.55" y1="1439.18" y2="1439.18" stroke="#EBEBEB" stroke-width="3.56"/><line x1="1304.45" x2="1667.55" y1="1377.43" y2="1377.43" stroke="#EBEBEB" stroke-width="3.56"/><line x1="1304.45" x2="1667.55" y1="1315.68" y2="1315.68" stroke="#EBEBEB" stroke-width="3.56"/><line x1="1304.45" x2="1667.55" y1="1253.93" y2="1253.93" stroke="#EBEBEB" stroke-width="3.56"/><line x1="1356.32" x2="1356.32" y1="1243.2" y2="1513.2" stroke="#EBEBEB" stroke-width="3.56"/><line x1="1442.77" x2="1442.77" y1="1243.2" y2="1513.2" stroke="#EBEBEB" stroke-width="3.56"/><line x1="1529.23" x2="1529.23" y1="1243.2" y2="1513.2" stroke="#EBEBEB" stroke-width="3.56"/><line x1="1615.68" x2="1615.68" y1="1243.2" y2="1513.2" stroke="#EBEBEB" stroke-width="3.56"/><rect x="1317.42" y="1256.1" width="77.81" height="244.83" fill="#B147B9" fill-opacity="0.4"/><rect x="1403.87" y="1259.9" width="77.81" height="241.03" fill="#B147B9" fill-opacity="0.6"/><rect x="1490.32" y="1258.8" width="77.81" height="242.13" fill="#B147B9" fill-opacity="0.8"/><rect x="1576.77" y="1258.8" width="77.81" height="242.13" fill="#B147B9" fill-opacity="1.0"/><rect x="1304.45" y="1243.2" width="363.1" height="270" fill="none" stroke="#222222" stroke-width="3.56"/></g>
<g clip-path="url(#p44)"><line x1="1690.4" x2="2053.5" y1="1470.05" y2="1470.05" stroke="#EBEBEB" stroke-width="1.78"/><line x1="1690.4" x2="2053.5" y1="1408.3" y2="1408.3" stroke="#EBEBEB" stroke-width="1.78"/><line x1="1690.4" x2="2053.5" y1="1346.55" y2="1346.55" stroke="#EBEBEB" stroke-width="1.78"/><line x1="1690.4" x2="2053.5" y1="1284.8" y2="1284.8" stroke="#EBEBEB" stroke-width="1.78"/><line x1="1690.4" x2="2053.5" y1="1500.93" y2="1500.93" stroke="#EBEBEB" stroke-width="3.56"/><line x1="1690.4" x2="2053.5" y1="1439.18" y2="1439.18" stroke="#EBEBEB" stroke-width="3.56"/><line x1="1690.4" x2="2053.5" y1="1377.43" y2="1377.43" stroke="#EBEBEB" stroke-width="3.56"/><line x1="1690.4" x2="2053.5" y1="1315.68" y2="1315.68" stroke="#EBEBEB" stroke-width="3.56"/><line x1="1690.4" x2="2053.5" y1="1253.93" y2="1253.93" stroke="#EBEBEB" stroke-width="3.56"/><line x1="1742.27" x2="1742.27" y1="1243.2" y2="1513.2" stroke="#EBEBEB" stroke-width="3.56"/><line x1="1828.72" x2="1828.72" y1="1243.2" y2="1513.2" stroke="#EBEBEB" stroke-width="3.56"/><line x1="1915.18" x2="1915.18" y1="1243.2" y2="1513.2" stroke="#EBEBEB" stroke-width="3.56"/><line x1="2001.63" x2="2001.63" y1="1243.2" y2="1513.2" stroke="#EBEBEB" stroke-width="3.56"/><rect x="1703.37" y="1255.2" width="77.81" height="245.73" fill="#7F7F7F" fill-opacity="0.4"/><rect x="1789.82" y="1261.1" width="77.81" height="239.83" fill="#7F7F7F" fill-opacity="0.6"/><rect x="1876.27" y="1259.1" width="77.81" height="241.83" fill="#7F7F7F" fill-opacity="0.8"/><rect x="1962.72" y="1260.1" width="77.81" height="240.83" fill="#7F7F7F" fill-opacity="1.0"/><rect x="1690.4" y="1243.2" width="363.1" height="270" fill="none" stroke="#222222" stroke-width="3.56"/></g>
<clipPath id="s0"><rect x="146.6" y="0.9" width="363.1" height="70.1"/></clipPath>
<g clip-path="url(#s0)"><rect x="146.6" y="0.9" width="363.1" height="70.1" fill="#D9D9D9" stroke="#222222" stroke-width="3.56"/></g>
<text x="328.15" y="48.8" font-size="36.4" fill="#141414" text-anchor="middle">CNS</text>
<clipPath id="s1"><rect x="532.55" y="0.9" width="363.1" height="70.1"/></clipPath>
<g clip-path="url(#s1)"><rect x="532.55" y="0.9" width="363.1" height="70.1" fill="#D9D9D9" stroke="#222222" stroke-width="3.56"/></g>
<text x="714.1" y="48.8" font-size="36.4" fill="#141414" text-anchor="middle">epidermis</text>
<clipPath id="s2"><rect x="918.5" y="0.9" width="363.1" height="70.1"/></clipPath>
<g clip-path="url(#s2)"><rect x="918.5" y="0.9" width="363.1" height="70.1" fill="#D9D9D9" stroke="#222222" stroke-width="3.56"/></g>
<text x="1100.05" y="48.8" font-size="36.4" fill="#141414" text-anchor="middle">gut</text>
<clipPath id="s3"><rect x="1304.45" y="0.9" width="363.1" height="70.1"/></clipPath>
<g clip-path="url(#s3)"><rect x="1304.45" y="0.9" width="363.1" height="70.1" fill="#D9D9D9" stroke="#222222" stroke-width="3.56"/></g>
<text x="1486" y="48.8" font-size="36.4" fill="#141414" text-anchor="middle">muscle</text>
<clipPath id="s4"><rect x="1690.4" y="0.9" width="363.1" height="70.1"/></clipPath>
<g clip-path="url(#s4)"><rect x="1690.4" y="0.9" width="363.1" height="70.1" fill="#D9D9D9" stroke="#222222" stroke-width="3.56"/></g>
<text x="1871.95" y="48.8" font-size="36.4" fill="#141414" text-anchor="middle">brain−specific</text>
<clipPath id="r0"><rect x="2053.5" y="71" width="69.9" height="270"/></clipPath>
<g clip-path="url(#r0)"><rect x="2053.5" y="71" width="69.9" height="270" fill="#D9D9D9" stroke="#222222" stroke-width="3.56"/></g>
<text transform="translate(2075.6 206) rotate(90)" font-size="36.4" fill="#141414" text-anchor="middle">AUPRC</text>
<clipPath id="r1"><rect x="2053.5" y="364.05" width="69.9" height="270"/></clipPath>
<g clip-path="url(#r1)"><rect x="2053.5" y="364.05" width="69.9" height="270" fill="#D9D9D9" stroke="#222222" stroke-width="3.56"/></g>
<text transform="translate(2075.6 499.05) rotate(90)" font-size="36.4" fill="#141414" text-anchor="middle">F1−score</text>
<clipPath id="r2"><rect x="2053.5" y="657.1" width="69.9" height="270"/></clipPath>
<g clip-path="url(#r2)"><rect x="2053.5" y="657.1" width="69.9" height="270" fill="#D9D9D9" stroke="#222222" stroke-width="3.56"/></g>
<text transform="translate(2075.6 792.1) rotate(90)" font-size="36.4" fill="#141414" text-anchor="middle">Accuracy</text>
<clipPath id="r3"><rect x="2053.5" y="950.15" width="69.9" height="270"/></clipPath>
<g clip-path="url(#r3)"><rect x="2053.5" y="950.15" width="69.9" height="270" fill="#D9D9D9" stroke="#222222" stroke-width="3.56"/></g>
<text transform="translate(2075.6 1085.15) rotate(90)" font-size="36.4" fill="#141414" text-anchor="middle">Accuracy (pos)</text>
<clipPath id="r4"><rect x="2053.5" y="1243.2" width="69.9" height="270"/></clipPath>
<g clip-path="url(#r4)"><rect x="2053.5" y="1243.2" width="69.9" height="270" fill="#D9D9D9" stroke="#222222" stroke-width="3.56"/></g>
<text transform="translate(2075.6 1378.2) rotate(90)" font-size="36.4" fill="#141414" text-anchor="middle">Accuracy (neg)</text>
<line x1="146.6" x2="509.7" y1="71" y2="71" stroke="#222222" stroke-width="3.56"/>
<line x1="532.55" x2="895.65" y1="71" y2="71" stroke="#222222" stroke-width="3.56"/>
<line x1="918.5" x2="1281.6" y1="71" y2="71" stroke="#222222" stroke-width="3.56"/>
<line x1="1304.45" x2="1667.55" y1="71" y2="71" stroke="#222222" stroke-width="3.56"/>
<line x1="1690.4" x2="2053.5" y1="71" y2="71" stroke="#222222" stroke-width="3.56"/>
<line x1="2053.5" x2="2053.5" y1="71" y2="341" stroke="#222222" stroke-width="3.56"/>
<line x1="2053.5" x2="2053.5" y1="364.05" y2="634.05" stroke="#222222" stroke-width="3.56"/>
<line x1="2053.5" x2="2053.5" y1="657.1" y2="927.1" stroke="#222222" stroke-width="3.56"/>
<line x1="2053.5" x2="2053.5" y1="950.15" y2="1220.15" stroke="#222222" stroke-width="3.56"/>
<line x1="2053.5" x2="2053.5" y1="1243.2" y2="1513.2" stroke="#222222" stroke-width="3.56"/>
<line x1="135.35" x2="146.6" y1="328.73" y2="328.73" stroke="#222222" stroke-width="3.56"/>
<text x="125.8" y="342.83" font-size="36.4" fill="#424242" text-anchor="end">0.0</text>
<line x1="135.35" x2="146.6" y1="277.96" y2="277.96" stroke="#222222" stroke-width="3.56"/>
<text x="125.8" y="292.06" font-size="36.4" fill="#424242" text-anchor="end">0.1</text>
<line x1="135.35" x2="146.6" y1="227.19" y2="227.19" stroke="#222222" stroke-width="3.56"/>
<text x="125.8" y="241.29" font-size="36.4" fill="#424242" text-anchor="end">0.2</text>
<line x1="135.35" x2="146.6" y1="176.42" y2="176.42" stroke="#222222" stroke-width="3.56"/>
<text x="125.8" y="190.52" font-size="36.4" fill="#424242" text-anchor="end">0.3</text>
<line x1="135.35" x2="146.6" y1="125.65" y2="125.65" stroke="#222222" stroke-width="3.56"/>
<text x="125.8" y="139.75" font-size="36.4" fill="#424242" text-anchor="end">0.4</text>
<line x1="135.35" x2="146.6" y1="74.88" y2="74.88" stroke="#222222" stroke-width="3.56"/>
<text x="125.8" y="88.98" font-size="36.4" fill="#424242" text-anchor="end">0.5</text>
<line x1="135.35" x2="146.6" y1="621.78" y2="621.78" stroke="#222222" stroke-width="3.56"/>
<text x="125.8" y="635.88" font-size="36.4" fill="#424242" text-anchor="end">0.0</text>
<line x1="135.35" x2="146.6" y1="569.79" y2="569.79" stroke="#222222" stroke-width="3.56"/>
<text x="125.8" y="583.89" font-size="36.4" fill="#424242" text-anchor="end">0.1</text>
<line x1="135.35" x2="146.6" y1="517.8" y2="517.8" stroke="#222222" stroke-width="3.56"/>
<text x="125.8" y="531.9" font-size="36.4" fill="#424242" text-anchor="end">0.2</text>
<line x1="135.35" x2="146.6" y1="465.81" y2="465.81" stroke="#222222" stroke-width="3.56"/>
<text x="125.8" y="479.91" font-size="36.4" fill="#424242" text-anchor="end">0.3</text>
<line x1="135.35" x2="146.6" y1="413.82" y2="413.82" stroke="#222222" stroke-width="3.56"/>
<text x="125.8" y="427.92" font-size="36.4" fill="#424242" text-anchor="end">0.4</text>
<line x1="135.35" x2="146.6" y1="914.83" y2="914.83" stroke="#222222" stroke-width="3.56"/>
<text x="125.8" y="928.93" font-size="36.4" fill="#424242" text-anchor="end">0.00</text>
<line x1="135.35" x2="146.6" y1="852.28" y2="852.28" stroke="#222222" stroke-width="3.56"/>
<text x="125.8" y="866.38" font-size="36.4" fill="#424242" text-anchor="end">0.25</text>
<line x1="135.35" x2="146.6" y1="789.73" y2="789.73" stroke="#222222" stroke-width="3.56"/>
<text x="125.8" y="803.83" font-size="36.4" fill="#424242" text-anchor="end">0.50</text>
<line x1="135.35" x2="146.6" y1="727.18" y2="727.18" stroke="#222222" stroke-width="3.56"/>
<text x="125.8" y="741.28" font-size="36.4" fill="#424242" text-anchor="end">0.75</text>
<line x1="135.35" x2="146.6" y1="664.63" y2="664.63" stroke="#222222" stroke-width="3.56"/>
<text x="125.8" y="678.73" font-size="36.4" fill="#424242" text-anchor="end">1.00</text>
<line x1="135.35" x2="146.6" y1="1207.88" y2="1207.88" stroke="#222222" stroke-width="3.56"/>
<text x="125.8" y="1221.98" font-size="36.4" fill="#424242" text-anchor="end">0.0</text>
<line x1="135.35" x2="146.6" y1="1135.65" y2="1135.65" stroke="#222222" stroke-width="3.56"/>
<text x="125.8" y="1149.75" font-size="36.4" fill="#424242" text-anchor="end">0.1</text>
<line x1="135.35" x2="146.6" y1="1063.42" y2="1063.42" stroke="#222222" stroke-width="3.56"/>
<text x="125.8" y="1077.52" font-size="36.4" fill="#424242" text-anchor="end">0.2</text>
<line x1="135.35" x2="146.6" y1="991.19" y2="991.19" stroke="#222222" stroke-width="3.56"/>
<text x="125.8" y="1005.29" font-size="36.4" fill="#424242" text-anchor="end">0.3</text>
<line x1="135.35" x2="146.6" y1="1500.93" y2="1500.93" stroke="#222222" stroke-width="3.56"/>
<text x="125.8" y="1515.03" font-size="36.4" fill="#424242" text-anchor="end">0.00</text>
<line x1="135.35" x2="146.6" y1="1439.18" y2="1439.18" stroke="#222222" stroke-width="3.56"/>
<text x="125.8" y="1453.28" font-size="36.4" fill="#424242" text-anchor="end">0.25</text>
<line x1="135.35" x2="146.6" y1="1377.43" y2="1377.43" stroke="#222222" stroke-width="3.56"/>
<text x="125.8" y="1391.53" font-size="36.4" fill="#424242" text-anchor="end">0.50</text>
<line x1="135.35" x2="146.6" y1="1315.68" y2="1315.68" stroke="#222222" stroke-width="3.56"/>
<text x="125.8" y="1329.78" font-size="36.4" fill="#424242" text-anchor="end">0.75</text>
<line x1="135.35" x2="146.6" y1="1253.93" y2="1253.93" stroke="#222222" stroke-width="3.56"/>
<text x="125.8" y="1268.03" font-size="36.4" fill="#424242" text-anchor="end">1.00</text>
<line x1="198.47" x2="198.47" y1="1513.2" y2="1524.45" stroke="#222222" stroke-width="3.56"/>
<text transform="translate(198.47 1533.45) rotate(-45)" y="26" font-size="36" fill="#424242" text-anchor="end">DNA accessibility</text>
<line x1="284.92" x2="284.92" y1="1513.2" y2="1524.45" stroke="#222222" stroke-width="3.56"/>
<text transform="translate(284.92 1533.45) rotate(-45)" y="26" font-size="36" fill="#424242" text-anchor="end">Enh act (random init)</text>
<line x1="371.38" x2="371.38" y1="1513.2" y2="1524.45" stroke="#222222" stroke-width="3.56"/>
<text transform="translate(371.38 1533.45) rotate(-45)" y="26" font-size="36" fill="#424242" text-anchor="end">Enh act (other tissue init)</text>
<line x1="457.83" x2="457.83" y1="1513.2" y2="1524.45" stroke="#222222" stroke-width="3.56"/>
<text transform="translate(457.83 1533.45) rotate(-45)" y="26" font-size="36" fill="#424242" text-anchor="end">Enh act (transfer learning)</text>
<line x1="584.42" x2="584.42" y1="1513.2" y2="1524.45" stroke="#222222" stroke-width="3.56"/>
<text transform="translate(584.42 1533.45) rotate(-45)" y="26" font-size="36" fill="#424242" text-anchor="end">DNA accessibility</text>
<line x1="670.87" x2="670.87" y1="1513.2" y2="1524.45" stroke="#222222" stroke-width="3.56"/>
<text transform="translate(670.87 1533.45) rotate(-45)" y="26" font-size="36" fill="#424242" text-anchor="end">Enh act (random init)</text>
<line x1="757.33" x2="757.33" y1="1513.2" y2="1524.45" stroke="#222222" stroke-width="3.56"/>
<text transform="translate(757.33 1533.45) rotate(-45)" y="26" font-size="36" fill="#424242" text-anchor="end">Enh act (other tissue init)</text>
<line x1="843.78" x2="843.78" y1="1513.2" y2="1524.45" stroke="#222222" stroke-width="3.56"/>
<text transform="translate(843.78 1533.45) rotate(-45)" y="26" font-size="36" fill="#424242" text-anchor="end">Enh act (transfer learning)</text>
<line x1="970.37" x2="970.37" y1="1513.2" y2="1524.45" stroke="#222222" stroke-width="3.56"/>
<text transform="translate(970.37 1533.45) rotate(-45)" y="26" font-size="36" fill="#424242" text-anchor="end">DNA accessibility</text>
<line x1="1056.82" x2="1056.82" y1="1513.2" y2="1524.45" stroke="#222222" stroke-width="3.56"/>
<text transform="translate(1056.82 1533.45) rotate(-45)" y="26" font-size="36" fill="#424242" text-anchor="end">Enh act (random init)</text>
<line x1="1143.28" x2="1143.28" y1="1513.2" y2="1524.45" stroke="#222222" stroke-width="3.56"/>
<text transform="translate(1143.28 1533.45) rotate(-45)" y="26" font-size="36" fill="#424242" text-anchor="end">Enh act (other tissue init)</text>
<line x1="1229.73" x2="1229.73" y1="1513.2" y2="1524.45" stroke="#222222" stroke-width="3.56"/>
<text transform="translate(1229.73 1533.45) rotate(-45)" y="26" font-size="36" fill="#424242" text-anchor="end">Enh act (transfer learning)</text>
<line x1="1356.32" x2="1356.32" y1="1513.2" y2="1524.45" stroke="#222222" stroke-width="3.56"/>
<text transform="translate(1356.32 1533.45) rotate(-45)" y="26" font-size="36" fill="#424242" text-anchor="end">DNA accessibility</text>
<line x1="1442.77" x2="1442.77" y1="1513.2" y2="1524.45" stroke="#222222" stroke-width="3.56"/>
<text transform="translate(1442.77 1533.45) rotate(-45)" y="26" font-size="36" fill="#424242" text-anchor="end">Enh act (random init)</text>
<line x1="1529.23" x2="1529.23" y1="1513.2" y2="1524.45" stroke="#222222" stroke-width="3.56"/>
<text transform="translate(1529.23 1533.45) rotate(-45)" y="26" font-size="36" fill="#424242" text-anchor="end">Enh act (other tissue init)</text>
<line x1="1615.68" x2="1615.68" y1="1513.2" y2="1524.45" stroke="#222222" stroke-width="3.56"/>
<text transform="translate(1615.68 1533.45) rotate(-45)" y="26" font-size="36" fill="#424242" text-anchor="end">Enh act (transfer learning)</text>
<line x1="1742.27" x2="1742.27" y1="1513.2" y2="1524.45" stroke="#222222" stroke-width="3.56"/>
<text transform="translate(1742.27 1533.45) rotate(-45)" y="26" font-size="36" fill="#424242" text-anchor="end">DNA accessibility</text>
<line x1="1828.72" x2="1828.72" y1="1513.2" y2="1524.45" stroke="#222222" stroke-width="3.56"/>
<text transform="translate(1828.72 1533.45) rotate(-45)" y="26" font-size="36" fill="#424242" text-anchor="end">Enh act (random init)</text>
<line x1="1915.18" x2="1915.18" y1="1513.2" y2="1524.45" stroke="#222222" stroke-width="3.56"/>
<text transform="translate(1915.18 1533.45) rotate(-45)" y="26" font-size="36" fill="#424242" text-anchor="end">Enh act (other tissue init)</text>
<line x1="2001.63" x2="2001.63" y1="1513.2" y2="1524.45" stroke="#222222" stroke-width="3.56"/>
<text transform="translate(2001.63 1533.45) rotate(-45)" y="26" font-size="36" fill="#424242" text-anchor="end">Enh act (transfer learning)</text>
<text x="1100.1" y="1895.9" font-size="45" fill="#000000" text-anchor="middle">Model</text>
<text transform="translate(34.6 790.5) rotate(-90)" font-size="45" fill="#000000" text-anchor="middle">Metric scores</text>
</svg>
</body></html>
